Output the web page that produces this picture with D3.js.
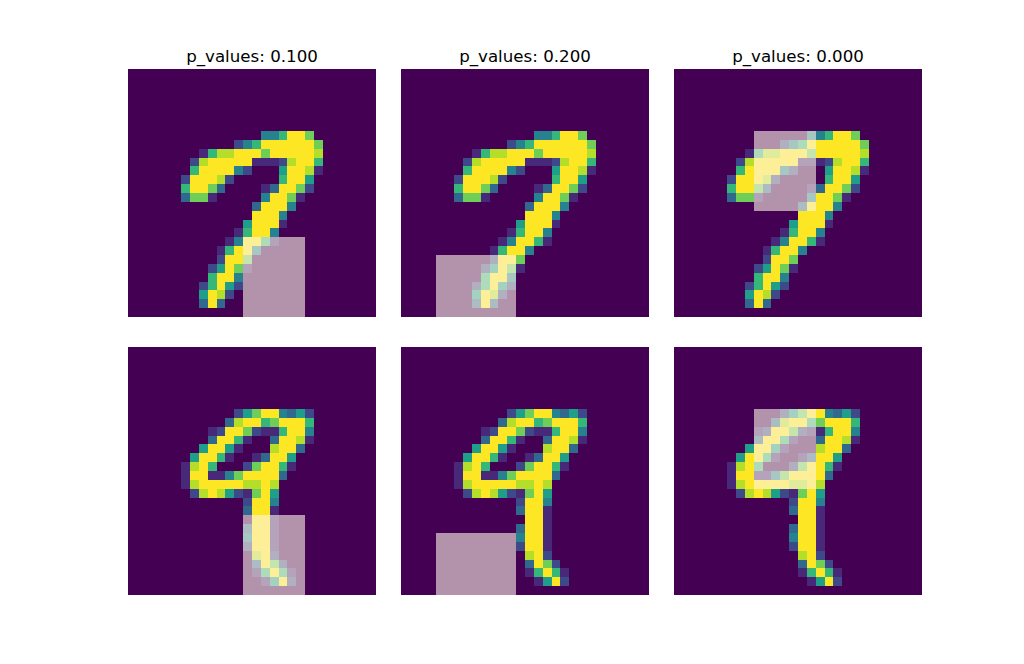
<!DOCTYPE html>
<meta charset="utf-8">
<script src="https://d3js.org/d3.v7.min.js"></script>
<style>
  body { margin: 0; background: #fff; }
  text { font-family: "DejaVu Sans", sans-serif; }
</style>
<div id="my_dataviz"></div>
<script>

// 28x28 digit images, one string per row, intensity 0..9 per pixel
var digitSeven = [
  "0", "0", "0", "0", "0", "0", "0",
  "0000000000000004469970000000",
  "0000000000002469999997000000",
  "0000000016889997999998000000",
  "0000000289999911128996000000",
  "0000000699994200059981000000",
  "0000002999820000069950000000",
  "0000006997300001399720000000",
  "0000003771000004997100000000",
  "0000000000000039994000000000",
  "0000000000000099940000000000",
  "0000000000000599910000000000",
  "0000000000001699400000000000",
  "0000000000014996100000000000",
  "0000000000169940000000000000",
  "0000000000299700000000000000",
  "0000000002597100000000000000",
  "0000000006994000000000000000",
  "0000000026952000000000000000",
  "0000000059820000000000000000",
  "0000000039300000000000000000",
  "0"
];

var digitNine = [
  "0", "0", "0", "0", "0", "0", "0",
  "000000000000257994352",
  "000000000003899679996",
  "000000000129972116994",
  "000000000399610039981",
  "00000000599510008993",
  "0000000599610013995",
  "0000001896000279961",
  "000000199114799993",
  "00000018999998898",
  "00000002898521795",
  "00000000000002994",
  "00000000000003991",
  "00000000000000991",
  "00000000000003991",
  "00000000000004991",
  "00000000000002991",
  "00000000000000892",
  "000000000000003972",
  "0000000000000016961",
  "0000000000000001592",
  "0"
];

// panels, left to right then top to bottom
var panelDigit = ["seven", "seven", "seven", "nine", "nine", "nine"];
var pValues    = [0.100, 0.200, 0.000];          // titles of the top row
var patchCol   = [13, 4, 9, 13, 4, 9];
var patchRow   = [19, 21, 7, 19, 21, 7];
var patchW     = [7, 9, 7, 7, 9, 7];
var patchH     = [9, 7, 9, 9, 7, 9];

var images = { seven: digitSeven, nine: digitNine };

var width = 1024, height = 664,
    size = 248,
    colLeft = [128, 401, 674],
    rowTop = [69, 347];

var svg = d3.select("#my_dataviz")
  .append("svg")
    .attr("width", width)
    .attr("height", height)
    .attr("shape-rendering", "crispEdges");

// pixel edges, rounded so neighbouring cells meet without seams
var pos = d3.scaleLinear().domain([0, 28]).range([0, size]);
var edge = function(i) { return Math.round(pos(i)); };
var color = function(v) { return d3.interpolateViridis(v / 9); };

panelDigit.forEach(function(name, p) {
  var g = svg.append("g")
    .attr("transform", "translate(" + colLeft[p % 3] + "," + rowTop[Math.floor(p / 3)] + ")");

  var rows = images[name].map(function(r) { return r.padEnd(28, "0"); });
  var cells = [];
  rows.forEach(function(r, i) {
    for (var j = 0; j < 28; j++) cells.push({ r: i, c: j, v: +r[j] });
  });

  g.append("rect")
    .attr("width", size)
    .attr("height", size)
    .attr("fill", color(0));

  g.selectAll("rect.cell")
    .data(cells.filter(function(d) { return d.v > 0; }))
    .enter()
    .append("rect")
      .attr("class", "cell")
      .attr("x", function(d) { return edge(d.c); })
      .attr("y", function(d) { return edge(d.r); })
      .attr("width", function(d) { return edge(d.c + 1) - edge(d.c); })
      .attr("height", function(d) { return edge(d.r + 1) - edge(d.r); })
      .attr("fill", function(d) { return color(d.v); });

  // occluding patch
  g.append("rect")
    .attr("x", edge(patchCol[p]))
    .attr("y", edge(patchRow[p]))
    .attr("width", edge(patchCol[p] + patchW[p]) - edge(patchCol[p]))
    .attr("height", edge(patchRow[p] + patchH[p]) - edge(patchRow[p]))
    .attr("fill", "rgb(253,245,230)")
    .attr("fill-opacity", 0.6);

  if (p < 3) {
    g.append("text")
      .attr("x", size / 2)
      .attr("y", -7)
      .attr("text-anchor", "middle")
      .attr("shape-rendering", "auto")
      .style("font-size", "16.67px")
      .text("p_values: " + pValues[p].toFixed(3));
  }
});

</script>
